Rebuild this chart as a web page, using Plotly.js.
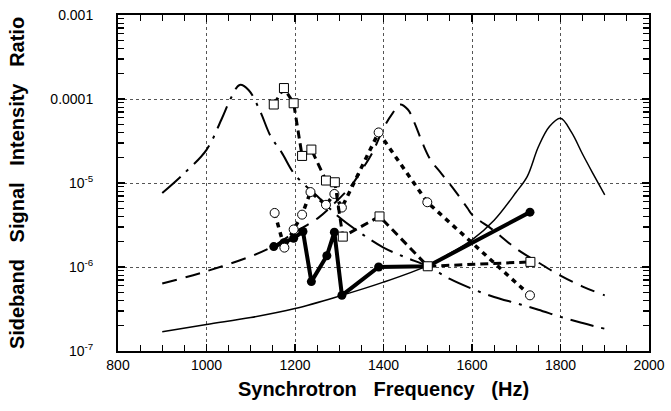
<!DOCTYPE html>
<html>
<head>
<meta charset="utf-8">
<script src="https://cdn.plot.ly/plotly-3.0.1.min.js"></script>
<style>html,body{margin:0;padding:0;background:#fff;}#chart{width:671px;height:411px;}</style>
</head>
<body>
<div id="chart"></div>
<script>
// Theoretical curve 1 (solid, resonance near 1800 Hz)
const solidFreq = [900,1000,1100,1200,1300,1400,1500,1550,1600,1650,1700,1725,1750,1775,1800,1825,1850,1875,1900];
const solidVal  = [1.69e-7,2.07e-7,2.5e-7,3.2e-7,4.5e-7,6.6e-7,1.04e-6,1.45e-6,2.1e-6,3.6e-6,7.8e-6,1.2e-5,2.7e-5,4.7e-5,5.9e-5,4.0e-5,2.2e-5,1.25e-5,7.2e-6];

// Theoretical curve 2 (dash-dot, resonance near 1075 Hz)
const dashDotFreq = [900,950,1000,1035,1055,1075,1095,1120,1145,1170,1200,1250,1300,1350,1400,1450,1500,1550,1600,1650,1700,1750,1800,1850,1900];
const dashDotVal  = [7.6e-6,1.31e-5,2.48e-5,5.9e-5,1.02e-4,1.47e-4,1.28e-4,7.4e-5,3.6e-5,2.3e-5,1.25e-5,7e-6,3.9e-6,2.5e-6,1.7e-6,1.3e-6,1.02e-6,7.2e-7,5.5e-7,4.4e-7,3.7e-7,3.1e-7,2.55e-7,2.15e-7,1.84e-7];

// Theoretical curve 3 (long dash, resonance near 1437 Hz)
const longDashFreq = [900,1000,1100,1150,1200,1254,1290,1325,1350,1375,1400,1420,1437,1455,1470,1488,1506,1530,1560,1590,1600,1650,1700,1750,1800,1850,1900];
const longDashVal  = [6.35e-7,8.9e-7,1.34e-6,1.76e-6,2.6e-6,3.9e-6,5.8e-6,9e-6,1.4e-5,2.3e-5,4.5e-5,6.7e-5,8.6e-5,7.5e-5,5.2e-5,3.0e-5,1.9e-5,1.31e-5,8.3e-6,5.0e-6,4.2e-6,2.7e-6,1.65e-6,1.13e-6,7.9e-7,5.85e-7,4.6e-7];

// Measured: filled circles
const filledFreq = [1152,1175,1197,1218,1237,1272,1289,1306,1389,1500,1731];
const filledVal  = [1.75e-6,1.95e-6,2.2e-6,2.65e-6,6.7e-7,1.36e-6,2.6e-6,4.6e-7,1.0e-6,1.02e-6,4.5e-6];

// Measured: open circles
const circFreq = [1154,1176,1197,1216,1235,1270,1289,1306,1389,1499,1731];
const circVal  = [4.4e-6,1.7e-6,2.8e-6,4.2e-6,7.8e-6,5.5e-6,7.4e-6,5.1e-6,4.0e-5,5.9e-6,4.6e-7];

// Measured: open squares
const sqFreq = [1152,1175,1197,1216,1237,1270,1290,1308,1391,1500,1732];
const sqVal  = [8.6e-5,1.35e-4,8.9e-5,2.1e-5,2.5e-5,1.07e-5,1.02e-5,2.3e-6,4.0e-6,1.02e-6,1.15e-6];

// Axis ticks
const xTickVals = [800,1000,1200,1400,1600,1800,2000];
const yTickVals = [1e-7,1e-6,1e-5,1e-4,1e-3];
const yTickText = ['10<sup>-7</sup>','10<sup>-6</sup>','10<sup>-5</sup>','0.0001','0.001'];

const yMinor = [];
for (let e = -7; e < -3; e++) { for (let m = 2; m <= 9; m++) yMinor.push(m * Math.pow(10, e)); }

const traces = [
  {x: solidFreq, y: solidVal, mode: 'lines', line: {color: '#000', width: 1.5, shape: 'spline'}},
  {x: dashDotFreq, y: dashDotVal, mode: 'lines', line: {color: '#000', width: 2, shape: 'spline', dash: '24px,8px,3px,8px'}},
  {x: longDashFreq, y: longDashVal, mode: 'lines', line: {color: '#000', width: 2, shape: 'spline', dash: '15px,9px'}},
  {x: filledFreq, y: filledVal, mode: 'lines+markers', line: {color: '#000', width: 4},
   marker: {symbol: 'circle', size: 9, color: '#000'}},
  {x: circFreq, y: circVal, mode: 'lines+markers', line: {color: '#000', width: 3.5, dash: '5px,5px'},
   marker: {symbol: 'circle', size: 9, color: '#fff', line: {color: '#000', width: 1}}},
  {x: sqFreq, y: sqVal, mode: 'lines+markers', line: {color: '#000', width: 3, dash: '8px,5px'},
   marker: {symbol: 'square', size: 9, color: '#fff', line: {color: '#000', width: 1}}}
];

const font = {family: 'Arial, "Liberation Sans", sans-serif', color: '#000'};

const layout = {
  width: 671, height: 411,
  margin: {l: 118, r: 22, t: 15, b: 60},
  paper_bgcolor: '#fff', plot_bgcolor: '#fff',
  showlegend: false,
  font: font,
  xaxis: {
    range: [800, 2000], tickmode: 'array', tickvals: xTickVals,
    ticks: 'inside', ticklen: 7, tickwidth: 1.5, tickcolor: '#000',
    showline: true, linewidth: 2, linecolor: '#000', mirror: 'allticks',
    showgrid: true, gridcolor: '#555', griddash: 'dot', gridwidth: 1,
    zeroline: false,
    minor: {dtick: 50, tick0: 800, ticks: 'inside', ticklen: 6, tickwidth: 1.2, tickcolor: '#000', showgrid: false},
    tickfont: {family: font.family, size: 14, color: '#000'},
    title: {text: 'Synchrotron\u00A0\u00A0 Frequency\u00A0\u00A0 (Hz)', font: {family: font.family, size: 20, color: '#000', weight: 'bold'}, standoff: 10}
  },
  yaxis: {
    type: 'log', range: [-7, -3], tickmode: 'array', tickvals: yTickVals, ticktext: yTickText,
    ticks: 'inside', ticklen: 7, tickwidth: 1.5, tickcolor: '#000',
    showline: true, linewidth: 2, linecolor: '#000', mirror: 'allticks',
    showgrid: true, gridcolor: '#555', griddash: 'dot', gridwidth: 1,
    zeroline: false,
    minor: {tickmode: 'array', tickvals: yMinor, ticks: 'inside', ticklen: 6, tickwidth: 1.2, tickcolor: '#000', showgrid: false},
    tickfont: {family: font.family, size: 14, color: '#000'},
    ticklabelstandoff: 20,
    title: {text: 'Sideband\u00A0\u00A0 Signal\u00A0\u00A0 Intensity\u00A0\u00A0 Ratio', font: {family: font.family, size: 20, color: '#000', weight: 'bold'}, standoff: 20}
  }
};

Plotly.newPlot('chart', traces, layout, {staticPlot: true, displayModeBar: false});
</script>
</body>
</html>
